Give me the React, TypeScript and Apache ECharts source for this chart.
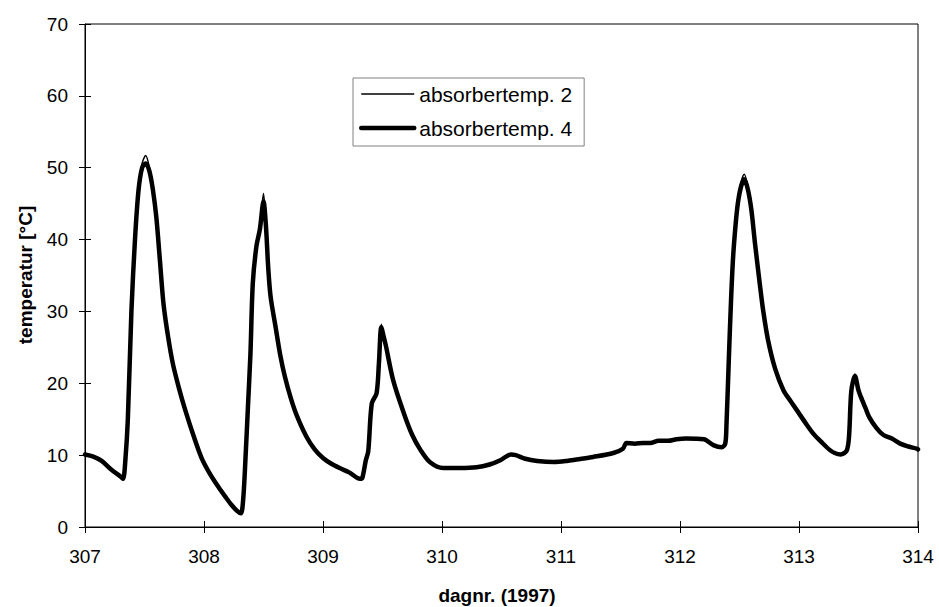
import React, { useEffect, useRef } from "react";
import * as echarts from "echarts";

const days = [
  307.0, 307.07, 307.14, 307.22, 307.3, 307.32, 307.34, 307.36, 307.39, 307.42,
  307.45, 307.48, 307.51, 307.54, 307.57, 307.6, 307.63, 307.66, 307.7, 307.74,
  307.79, 307.84, 307.91, 307.98, 308.05, 308.12, 308.18, 308.23, 308.28, 308.31,
  308.33, 308.35, 308.37, 308.39, 308.41, 308.44, 308.47, 308.5, 308.52, 308.54,
  308.56, 308.6, 308.64, 308.68, 308.73, 308.78, 308.86, 308.93, 309.0, 309.07,
  309.14, 309.22, 309.31, 309.33, 309.36, 309.38, 309.41, 309.45, 309.47, 309.49,
  309.51, 309.53, 309.59, 309.68, 309.75, 309.82, 309.9, 310.01, 310.15, 310.29,
  310.4, 310.49, 310.58, 310.62, 310.7, 310.8, 310.94, 311.05, 311.13, 311.27,
  311.44, 311.52, 311.55, 311.62, 311.69, 311.75, 311.82, 311.9, 311.97, 312.05,
  312.2, 312.28, 312.35, 312.38, 312.39, 312.41, 312.43, 312.45, 312.49, 312.54,
  312.57, 312.6, 312.63, 312.67, 312.7, 312.74, 312.8, 312.87, 312.93, 312.98,
  313.05, 313.12, 313.19, 313.26, 313.3, 313.35, 313.4, 313.42, 313.44, 313.47,
  313.5, 313.52, 313.56, 313.59, 313.65, 313.71, 313.78, 313.85, 313.92, 313.99,
  314.0,
];

const absorber4 = [
  10.1, 9.8, 9.2, 8.0, 7.0, 6.7, 9.5, 15.0, 30.0, 40.0,
  46.9, 50.0, 50.6, 49.6, 47.0, 43.0, 37.0, 31.0, 26.3, 22.6,
  19.3, 16.4, 12.8, 9.6, 7.4, 5.6, 4.2, 3.1, 2.2, 1.9,
  4.0, 10.0, 17.0, 24.0, 33.9, 39.0, 41.5, 45.3, 42.0, 36.0,
  32.0, 28.0, 24.0, 20.9, 17.9, 15.5, 12.6, 10.8, 9.6, 8.8,
  8.2, 7.6, 6.7, 6.8, 9.3, 10.5, 17.2, 18.6, 22.8, 27.8,
  26.5, 25.1, 20.4, 15.8, 12.8, 10.7, 9.0, 8.2, 8.2, 8.3,
  8.7, 9.3, 10.1, 10.0, 9.5, 9.2, 9.05, 9.2, 9.4, 9.75,
  10.3, 10.9, 11.7, 11.6, 11.7, 11.7, 12.0, 12.0, 12.2, 12.3,
  12.2, 11.4, 11.1, 11.6, 14.0, 23.2, 32.0, 38.5, 45.5, 48.4,
  47.0, 44.1, 39.5, 33.9, 30.0, 26.0, 22.0, 19.0, 17.5, 16.3,
  14.6, 13.0, 11.8, 10.7, 10.3, 10.1, 10.6, 12.5, 19.0, 21.0,
  19.0, 18.1, 16.5, 15.3, 13.8, 12.8, 12.3, 11.6, 11.2, 10.9,
  10.8,
];

const absorber2 = [
  10.1, 9.8, 9.2, 8.0, 7.0, 6.7, 9.5, 15.0, 30.0, 40.0,
  47.0, 50.6, 51.7, 50.1, 47.0, 43.0, 37.0, 31.0, 26.3, 22.6,
  19.3, 16.4, 12.8, 9.6, 7.4, 5.6, 4.2, 3.1, 2.2, 1.9,
  4.0, 10.0, 17.0, 24.0, 33.9, 39.0, 41.5, 46.4, 42.0, 36.0,
  32.0, 28.0, 24.0, 20.9, 17.9, 15.5, 12.6, 10.8, 9.6, 8.8,
  8.2, 7.6, 6.7, 6.8, 9.3, 10.5, 17.2, 18.6, 22.8, 28.2,
  26.5, 25.1, 20.4, 15.8, 12.8, 10.7, 9.0, 8.2, 8.2, 8.3,
  8.7, 9.3, 10.1, 10.0, 9.5, 9.2, 9.05, 9.2, 9.4, 9.75,
  10.3, 10.9, 11.7, 11.6, 11.7, 11.7, 12.0, 12.0, 12.2, 12.3,
  12.2, 11.4, 11.1, 11.6, 14.0, 23.2, 32.0, 38.5, 45.8, 49.1,
  47.4, 44.1, 39.5, 33.9, 30.0, 26.0, 22.0, 19.0, 17.5, 16.3,
  14.6, 13.0, 11.8, 10.7, 10.3, 10.1, 10.6, 12.5, 19.0, 21.3,
  19.0, 18.1, 16.5, 15.3, 13.8, 12.8, 12.3, 11.6, 11.2, 10.9,
  10.8,
];

const seriesNames = ["absorbertemp. 2", "absorbertemp. 4"];
const xTitle = "dagnr. (1997)";
const yTitle = "temperatur [°C]";

const FONT = "Arial, 'Liberation Sans', sans-serif";

export default function App() {
  const ref = useRef<HTMLDivElement>(null);

  useEffect(() => {
    if (!ref.current) return;
    const chart = echarts.init(ref.current, undefined, { renderer: "svg" });
    const d4 = days.map((d, i) => [d, absorber4[i]]);
    const d2 = days.map((d, i) => [d, absorber2[i]]);

    const baseX = {
      type: "value",
      min: 307,
      max: 314,
      interval: 1,
      splitLine: { show: false },
    };
    const baseY = {
      type: "value",
      min: 0,
      max: 70,
      interval: 10,
      splitLine: { show: false },
    };

    chart.setOption({
      animation: false,
      backgroundColor: "#ffffff",
      grid: {
        left: 85,
        top: 24,
        width: 833,
        height: 503,
        show: true,
        borderColor: "#000",
        borderWidth: 1,
        backgroundColor: "transparent",
      },
      xAxis: [
        {
          ...baseX,
          position: "bottom",
          axisLine: { show: true, lineStyle: { color: "#000", width: 1 } },
          axisTick: { show: true, inside: false, length: 6, lineStyle: { color: "#000" } },
          axisLabel: { show: true, color: "#000", fontSize: 19, fontFamily: FONT, margin: 20 },
        },
        {
          ...baseX,
          position: "bottom",
          axisLine: { show: false },
          axisTick: { show: true, inside: true, length: 6, lineStyle: { color: "#000" } },
          axisLabel: { show: false },
        },
      ],
      yAxis: [
        {
          ...baseY,
          position: "left",
          axisLine: { show: true, lineStyle: { color: "#000", width: 1 } },
          axisTick: { show: true, inside: false, length: 6, lineStyle: { color: "#000" } },
          axisLabel: { show: true, color: "#000", fontSize: 19, fontFamily: FONT, margin: 17 },
        },
        {
          ...baseY,
          position: "left",
          axisLine: { show: false },
          axisTick: { show: true, inside: true, length: 6, lineStyle: { color: "#000" } },
          axisLabel: { show: false },
        },
      ],
      legend: {
        show: true,
        orient: "vertical",
        left: 353,
        top: 78,
        padding: [5.5, 12, 7.5, 6],
        itemGap: 13,
        itemWidth: 53,
        itemHeight: 20,
        borderColor: "#808080",
        borderWidth: 1,
        backgroundColor: "#fff",
        itemStyle: { color: "transparent", borderWidth: 0, opacity: 0 },
        data: [
          { name: seriesNames[0], lineStyle: { color: "#000", width: 1.5, opacity: 1 } },
          { name: seriesNames[1], lineStyle: { color: "#000", width: 4.5, cap: "round", opacity: 1 } },
        ],
        textStyle: { color: "#000", fontSize: 21, fontFamily: FONT, lineHeight: 21 },
      },
      graphic: [
        {
          type: "text",
          x: 497,
          y: 595,
          style: {
            text: xTitle,
            fill: "#000",
            font: `bold 19px ${FONT}`,
            textAlign: "center",
            textVerticalAlign: "middle",
          },
        },
        {
          type: "text",
          x: 25,
          y: 275,
          rotation: Math.PI / 2,
          style: {
            text: yTitle,
            fill: "#000",
            font: `bold 19px ${FONT}`,
            textAlign: "center",
            textVerticalAlign: "middle",
          },
        },
      ],
      series: [
        {
          name: seriesNames[1],
          type: "line",
          data: d4,
          xAxisIndex: 0,
          yAxisIndex: 0,
          showSymbol: false,
          symbol: "none",
          smooth: 0.3,
          lineStyle: { color: "#000", width: 4.5, join: "round", cap: "round" },
          itemStyle: { color: "#000" },
          z: 2,
        },
        {
          name: seriesNames[0],
          type: "line",
          data: d2,
          xAxisIndex: 0,
          yAxisIndex: 0,
          showSymbol: false,
          symbol: "none",
          smooth: 0.3,
          lineStyle: { color: "#000", width: 1.5, join: "round" },
          itemStyle: { color: "#000" },
          z: 3,
        },
      ],
    });

    return () => {
      chart.dispose();
    };
  }, []);

  return (
    <div
      ref={ref}
      style={{ position: "absolute", left: 0, top: 0, width: 939, height: 607, background: "#fff" }}
    />
  );
}
